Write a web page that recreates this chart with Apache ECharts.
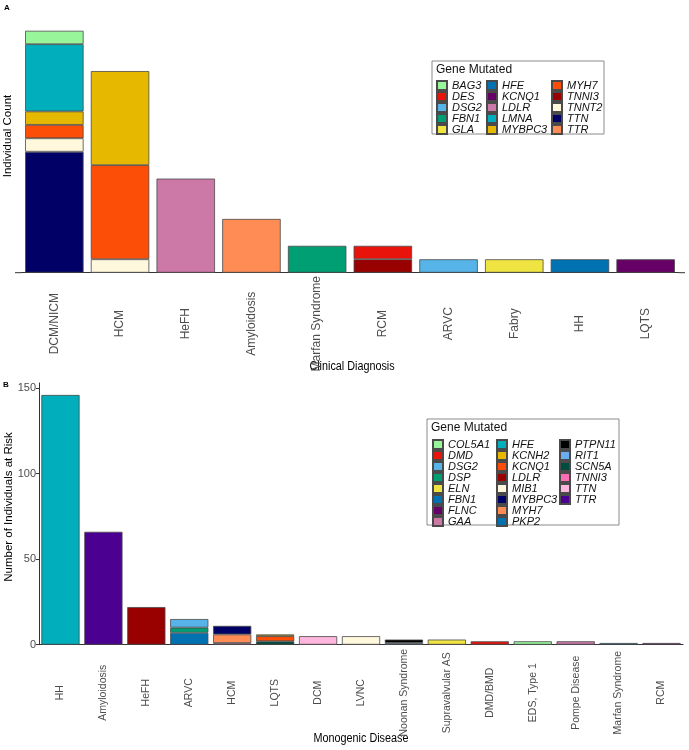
<!DOCTYPE html>
<html><head><meta charset="utf-8">
<script src="https://cdn.jsdelivr.net/npm/echarts@6/dist/echarts.min.js"></script>
<style>html,body{margin:0;padding:0;background:#fff}#c{width:689px;height:750px}</style>
</head><body><div id="c"></div><script>
// ---------- Panel A ----------
const catsA = ['DCM/NICM','HCM','HeFH','Amyloidosis','Marfan Syndrome','RCM','ARVC','Fabry','HH','LQTS'];
const genesA = ['BAG3','DES','DSG2','FBN1','GLA','HFE','KCNQ1','LDLR','LMNA','MYBPC3','MYH7','TNNI3','TNNT2','TTN','TTR'];
const colorsA = ['#98F59A','#E8140C','#56B4E9','#009E73','#F0E442','#0072B2','#660066','#CC79A7','#00AFBB','#E7B800','#FC4E07','#990000','#FFF8DC','#000066','#FF8C55'];
const countsA = [
  [1,0,0,0,0,0,0,0,0,0], // BAG3
  [0,0,0,0,0,1,0,0,0,0], // DES
  [0,0,0,0,0,0,1,0,0,0], // DSG2
  [0,0,0,0,2,0,0,0,0,0], // FBN1
  [0,0,0,0,0,0,0,1,0,0], // GLA
  [0,0,0,0,0,0,0,0,1,0], // HFE
  [0,0,0,0,0,0,0,0,0,1], // KCNQ1
  [0,0,7,0,0,0,0,0,0,0], // LDLR
  [5,0,0,0,0,0,0,0,0,0], // LMNA
  [1,7,0,0,0,0,0,0,0,0], // MYBPC3
  [1,7,0,0,0,0,0,0,0,0], // MYH7
  [0,0,0,0,0,1,0,0,0,0], // TNNI3
  [1,1,0,0,0,0,0,0,0,0], // TNNT2
  [9,0,0,0,0,0,0,0,0,0], // TTN
  [0,0,0,4,0,0,0,0,0,0]  // TTR
];
// ---------- Panel B ----------
const catsB = ['HH','Amyloidosis','HeFH','ARVC','HCM','LQTS','DCM','LVNC','Noonan Syndrome','Supravalvular AS','DMD/BMD','EDS, Type 1','Pompe Disease','Marfan Syndrome','RCM'];
const genesB = ['COL5A1','DMD','DSG2','DSP','ELN','FBN1','FLNC','GAA','HFE','KCNH2','KCNQ1','LDLR','MIB1','MYBPC3','MYH7','PKP2','PTPN11','RIT1','SCN5A','TNNI3','TTN','TTR'];
const colorsB = ['#98F59A','#E8140C','#56B4E9','#009E73','#F0E442','#0072B2','#660066','#CC79A7','#00AFBB','#E7B800','#FC4E07','#990000','#FFF8DC','#000066','#FF8C55','#0072B2','#000000','#6AAEF0','#004D40','#FF6EB4','#FFB7DD','#4B0092'];
const countsB = [
  [0,0,0,0,0,0,0,0,0,0,0,2,0,0,0], // COL5A1
  [0,0,0,0,0,0,0,0,0,0,2,0,0,0,0], // DMD
  [0,0,0,5,0,0,0,0,0,0,0,0,0,0,0], // DSG2
  [0,0,0,3,0,0,0,0,0,0,0,0,0,0,0], // DSP
  [0,0,0,0,0,0,0,0,0,3,0,0,0,0,0], // ELN
  [0,0,0,0,0,0,0,0,0,0,0,0,0,1,0], // FBN1
  [0,0,0,0,0,0,0,0,0,0,0,0,0,0,1], // FLNC
  [0,0,0,0,0,0,0,0,0,0,0,0,2,0,0], // GAA
  [146,0,0,0,0,0,0,0,0,0,0,0,0,0,0], // HFE
  [0,0,0,0,0,1,0,0,0,0,0,0,0,0,0], // KCNH2
  [0,0,0,0,0,3,0,0,0,0,0,0,0,0,0], // KCNQ1
  [0,0,22,0,0,0,0,0,0,0,0,0,0,0,0], // LDLR
  [0,0,0,0,0,0,0,5,0,0,0,0,0,0,0], // MIB1
  [0,0,0,0,5,0,0,0,0,0,0,0,0,0,0], // MYBPC3
  [0,0,0,0,5,0,0,0,0,0,0,0,0,0,0], // MYH7
  [0,0,0,7,0,0,0,0,0,0,0,0,0,0,0], // PKP2
  [0,0,0,0,0,0,0,0,2,0,0,0,0,0,0], // PTPN11
  [0,0,0,0,0,0,0,0,1,0,0,0,0,0,0], // RIT1
  [0,0,0,0,0,2,0,0,0,0,0,0,0,0,0], // SCN5A
  [0,0,0,0,1,0,0,0,0,0,0,0,0,0,0], // TNNI3
  [0,0,0,0,0,0,5,0,0,0,0,0,0,0,0], // TTN
  [0,66,0,0,0,0,0,0,0,0,0,0,0,0,0]  // TTR
];
const ticksB = [0, 50, 100, 150];

const FONT = "'Liberation Sans', Arial, sans-serif";
const AXIS = '#333333';
const LABEL = '#4D4D4D';

function makeSeries(prefix, stackId, genes, colors, counts, axisIdx) {
  const out = [];
  // reverse so that the first gene alphabetically sits on top of the stack
  for (let i = genes.length - 1; i >= 0; i--) {
    out.push({
      name: prefix + genes[i],
      type: 'bar',
      stack: stackId,
      xAxisIndex: axisIdx, yAxisIndex: axisIdx,
      barCategoryGap: '11%',
      itemStyle: { color: colors[i], borderColor: '#4a4a4a', borderWidth: 0.8 },
      emphasis: { disabled: true },
      data: counts[i].map(v => v === 0 ? '-' : v)
    });
  }
  return out;
}

function makeLegends(prefix, genes, cols, lefts, top) {
  const res = [];
  let k = 0;
  cols.forEach((n, ci) => {
    const names = genes.slice(k, k + n).map(g => prefix + g);
    k += n;
    res.push({
      orient: 'vertical', left: lefts[ci], top: top, padding: 0,
      itemWidth: 10, itemHeight: 9, itemGap: 0, selectedMode: false,
      icon: 'rect',
      data: names,
      formatter: s => s.slice(prefix.length),
      textStyle: { fontFamily: FONT, fontSize: 11, fontStyle: 'italic', color: '#111', lineHeight: 10.5, padding: 0 }
    });
  });
  return res;
}

const chart = echarts.init(document.getElementById('c'), null, { renderer: 'canvas' });
chart.setOption({
  animation: false,
  backgroundColor: '#ffffff',
  grid: [
    { left: 21.5, width: 657, top: 20, height: 252.7 },
    { left: 39, right: 6, top: 383, height: 261.7 }
  ],
  xAxis: [
    { type: 'category', gridIndex: 0, data: catsA,
      axisLine: { lineStyle: { color: AXIS, width: 1 } },
      axisTick: { alignWithLabel: true, length: 3, lineStyle: { color: AXIS } },
      axisLabel: { interval: 0, rotate: 90, align: 'center', verticalAlign: 'middle', margin: 51,
                   fontFamily: FONT, fontSize: 12, color: LABEL } },
    { type: 'category', gridIndex: 1, data: catsB,
      axisLine: { lineStyle: { color: AXIS, width: 1 } },
      axisTick: { alignWithLabel: true, length: 3, lineStyle: { color: AXIS } },
      axisLabel: { interval: 0, rotate: 90, align: 'center', verticalAlign: 'middle', margin: 48,
                   fontFamily: FONT, fontSize: 10.5, color: LABEL } }
  ],
  yAxis: [
    { type: 'value', gridIndex: 0, min: 0, max: 18.8,
      axisLine: { show: false }, axisTick: { show: false }, axisLabel: { show: false }, splitLine: { show: false } },
    { type: 'value', gridIndex: 1, min: 0, max: 153,
      axisLine: { show: true, lineStyle: { color: AXIS, width: 1 } },
      axisTick: { show: true, length: 3, lineStyle: { color: AXIS }, customValues: ticksB },
      axisLabel: { margin: 3, fontFamily: FONT, fontSize: 11, color: LABEL, customValues: ticksB },
      splitLine: { show: false } }
  ],
  legend: [].concat(
    makeLegends('A:', genesA, [5,5,5], [436, 486, 551], 80),
    makeLegends('B:', genesB, [8,8,6], [432, 496, 559], 439)
  ),
  graphic: [
    // ggplot-style axis line expansion beyond the outer categories (panel A)
    { type: 'line', shape: { x1: 15, y1: 272.7, x2: 21.5, y2: 272.7 }, style: { stroke: AXIS, lineWidth: 1 } },
    { type: 'line', shape: { x1: 678.5, y1: 272.7, x2: 685, y2: 272.7 }, style: { stroke: AXIS, lineWidth: 1 } },
    { type: 'text', x: 4, y: 4, style: { text: 'A', font: 'bold 8px ' + FONT, fill: '#000' } },
    { type: 'text', x: 3, y: 381, style: { text: 'B', font: 'bold 8px ' + FONT, fill: '#000' } },
    { type: 'text', x: 8, y: 136, rotation: Math.PI / 2,
      style: { text: 'Individual Count', font: '11.5px ' + FONT, fill: '#000', textAlign: 'center', textVerticalAlign: 'middle' } },
    { type: 'text', x: 9, y: 507, rotation: Math.PI / 2,
      style: { text: 'Number of Individuals at Risk', font: '11.5px ' + FONT, fill: '#000', textAlign: 'center', textVerticalAlign: 'middle' } },
    { type: 'text', x: 352, y: 367, scaleX: 0.9,
      style: { text: 'Clinical Diagnosis', font: '12px ' + FONT, fill: '#000', textAlign: 'center', textVerticalAlign: 'middle' } },
    { type: 'text', x: 361, y: 739, scaleX: 0.9,
      style: { text: 'Monogenic Disease', font: '12px ' + FONT, fill: '#000', textAlign: 'center', textVerticalAlign: 'middle' } },
    { type: 'rect', shape: { x: 432, y: 61, width: 172, height: 73 }, style: { fill: 'none', stroke: '#8a8a8a', lineWidth: 1 } },
    { type: 'text', x: 436, y: 70, style: { text: 'Gene Mutated', font: '12px ' + FONT, fill: '#111', textVerticalAlign: 'middle' } },
    { type: 'rect', shape: { x: 427, y: 419, width: 192, height: 106 }, style: { fill: 'none', stroke: '#8a8a8a', lineWidth: 1 } },
    { type: 'text', x: 431, y: 428, style: { text: 'Gene Mutated', font: '12px ' + FONT, fill: '#111', textVerticalAlign: 'middle' } }
  ],
  series: [].concat(
    makeSeries('A:', 'stackA', genesA, colorsA, countsA, 0),
    makeSeries('B:', 'stackB', genesB, colorsB, countsB, 1)
  )
});
</script></body></html>
